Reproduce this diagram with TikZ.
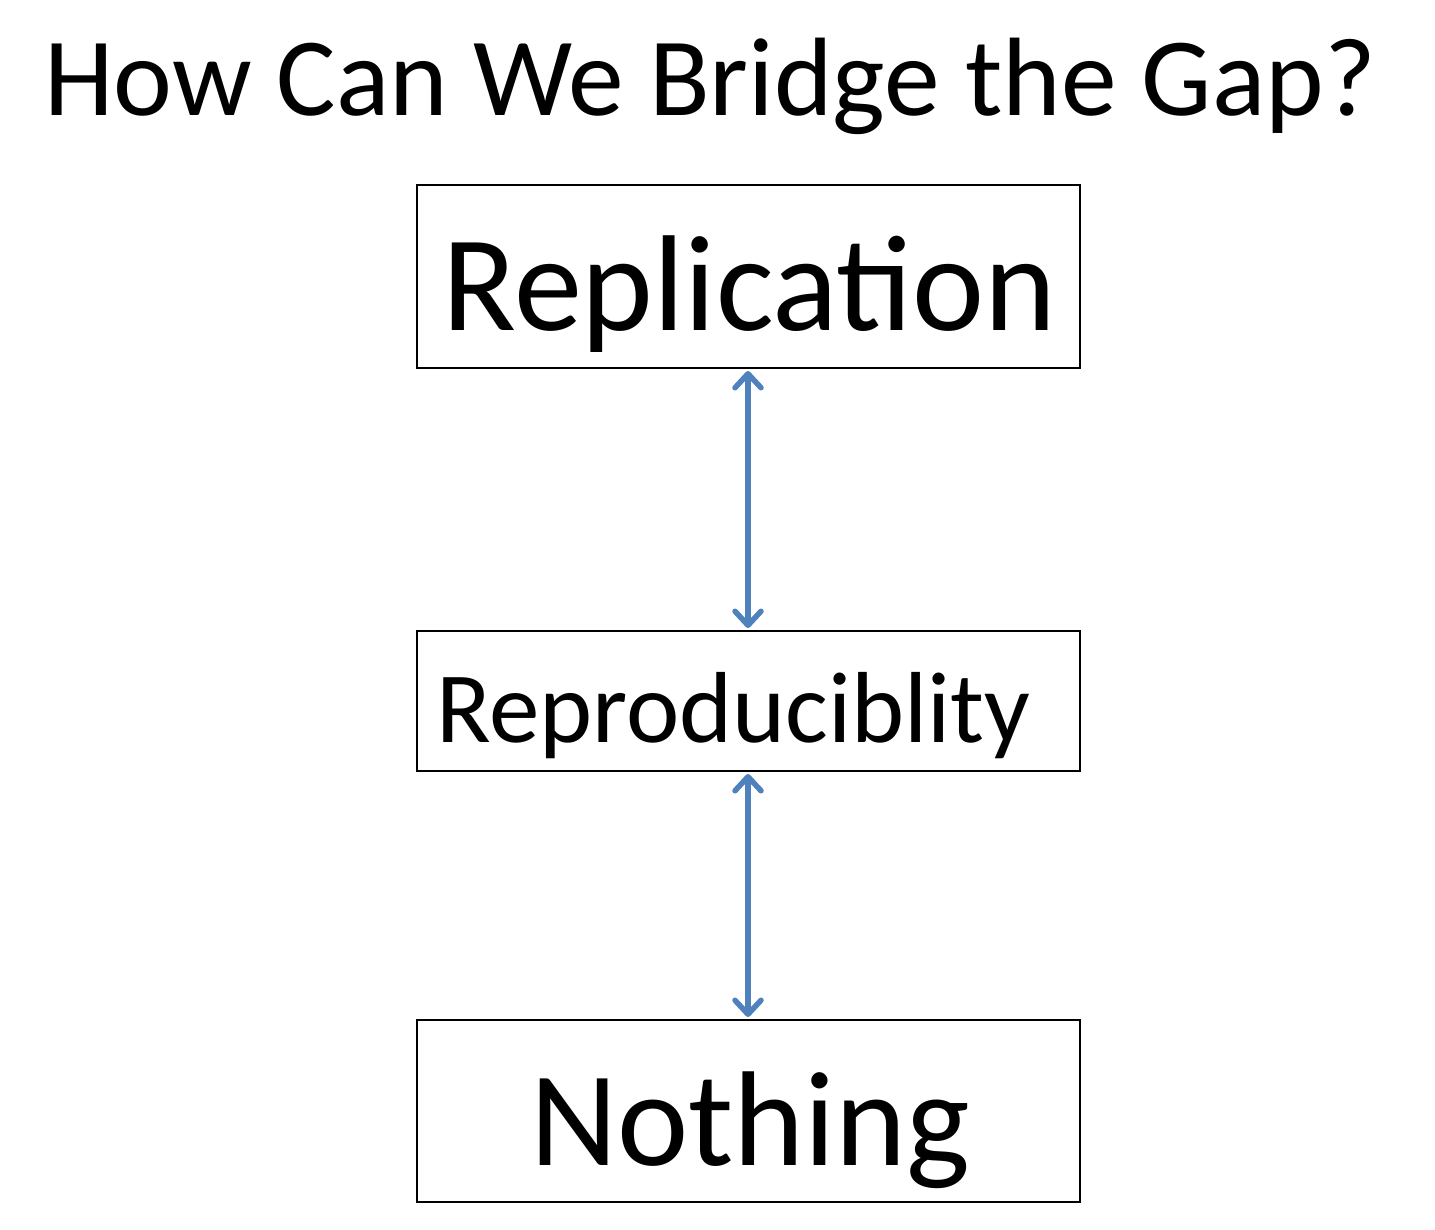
\documentclass[tikz,border=0pt]{standalone}
\usepackage{fontspec}
\setmainfont{Carlito}
\usetikzlibrary{arrows.meta}
\begin{document}
\begin{tikzpicture}[x=1pt,y=-1pt,
  box/.style={draw=black,line width=2pt,minimum width=663pt,inner sep=0pt},
  conn/.style={draw={rgb,255:red,79;green,129;blue,189},line width=5.5pt,line cap=round,
    {Straight Barb[length=14pt 0,width=26pt 0,line cap=round,round]}-{Straight Barb[length=14pt 0,width=26pt 0,line cap=round,round]},shorten <=2pt,shorten >=2pt}]
\useasboundingbox (0,0) rectangle (1435,1229);
\node[anchor=base west,inner sep=0pt,font=\fontsize{111.5}{111.5}\selectfont] (title) at (44,115) {How Can We Bridge the Gap?};
\node[box,minimum height=183pt] (rep) at (748.5,276.5) {};
\node[box,minimum height=140pt] (repro) at (748.5,701) {};
\node[box,minimum height=182pt] (noth) at (748.5,1111) {};
\node[anchor=base west,inner sep=0pt,font=\fontsize{136.5}{136.5}\selectfont] (t1) at (442,330) {Replication};
\node[anchor=base west,inner sep=0pt,font=\fontsize{101}{101}\selectfont] (t2) at (436,742) {Reproduciblity};
\node[anchor=base west,inner sep=0pt,font=\fontsize{135}{135}\selectfont] (t3) at (530,1165) {Nothing};
\draw[conn] (rep.south -| 748,0) -- (repro.north -| 748,0);
\draw[conn] (repro.south -| 748,0) -- (noth.north -| 748,0);
\end{tikzpicture}
\end{document}
